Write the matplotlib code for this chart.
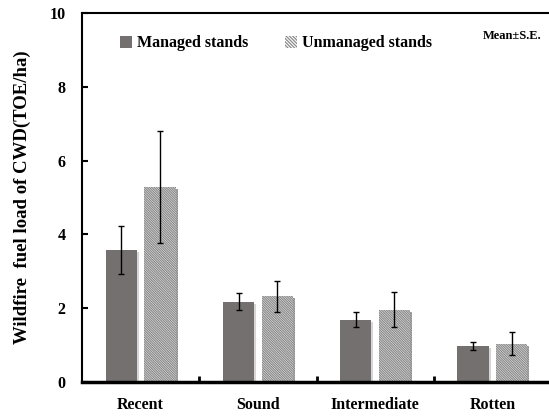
import numpy as np
import matplotlib
matplotlib.use('Agg')
import matplotlib.pyplot as plt
import matplotlib.patches as patches
import matplotlib.patheffects as pe

plt.rcParams['font.family'] = ['Liberation Serif', 'DejaVu Serif']
plt.rcParams['font.weight'] = 'bold'
plt.rcParams['hatch.linewidth'] = 0.9

# data
categories = ['Recent', 'Sound', 'Intermediate', 'Rotten']
managed = [3.58, 2.17, 1.69, 0.97]
managed_se = [0.64, 0.23, 0.21, 0.11]
unmanaged = [5.29, 2.32, 1.96, 1.04]
unmanaged_se = [1.52, 0.41, 0.47, 0.32]
series_names = ['Managed stands', 'Unmanaged stands']

fig = plt.figure(figsize=(5.49, 4.18), dpi=100)
ax = fig.add_axes([82/549, 36/418, 469/549, 369/418])

x = np.arange(len(categories))
w = 0.265
off = 0.165
hatch = '\\' * 14
shadow = [pe.SimplePatchShadow(offset=(1.5, -1.5), shadow_rgbFace='#bbbbbb', alpha=0.6), pe.Normal()]

b1 = ax.bar(x - off, managed, w, color='#747070', linewidth=0, zorder=2)
b2 = ax.bar(x + off, unmanaged, w, color='white', edgecolor='#8a8a8a',
            hatch=hatch, linewidth=0, zorder=2)
for b in list(b1) + list(b2):
    b.set_path_effects(shadow)

ax.errorbar(x - off, managed, yerr=managed_se, fmt='none', ecolor='black',
            elinewidth=1, capsize=2.2, capthick=1, zorder=3)
ax.errorbar(x + off, unmanaged, yerr=unmanaged_se, fmt='none', ecolor='black',
            elinewidth=1, capsize=2.2, capthick=1, zorder=3)

ax.set_xlim(-0.5, 3.5)
ax.set_ylim(0, 10)
ax.set_yticks(np.arange(0, 11, 2))
ax.set_xticks(x)
ax.set_xticklabels(categories)
ax.set_xticks(x[:-1] + 0.5, minor=True)
ax.tick_params(axis='x', which='major', length=0, pad=11, labelsize=11.5)
ax.tick_params(axis='x', which='minor', direction='in', length=4, width=2)
ax.tick_params(axis='y', direction='in', length=4, width=1.5, pad=12, labelsize=11.5)

ax.spines['right'].set_visible(False)
ax.spines['left'].set_linewidth(1.5)
ax.spines['bottom'].set_linewidth(2.5)
ax.spines['top'].set_linewidth(1.5)

ax.set_ylabel('Wildfire  fuel load of CWD(TOE/ha)', fontsize=13.5, fontweight='bold', labelpad=13)

handles = [patches.Patch(facecolor='#747070', linewidth=0),
           patches.Patch(facecolor='white', edgecolor='#8a8a8a', hatch='\\' * 10, linewidth=0)]
ax.legend(handles, series_names, ncol=2, frameon=False, loc='upper left',
          bbox_to_anchor=(0.051, 0.978), handlelength=0.75, handleheight=0.75,
          handletextpad=0.3, columnspacing=2.3, prop={'size': 11.5, 'weight': 'bold'})
ax.text(483, 418 - 39, 'Mean\u00b1S.E.', transform=None, fontsize=9, fontweight='bold')

fig.savefig('out.png', dpi=100)
